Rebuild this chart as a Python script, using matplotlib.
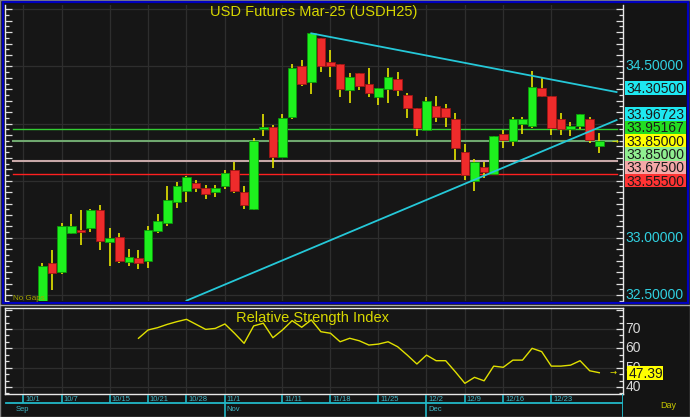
import numpy as np
import matplotlib
matplotlib.use('Agg')
import matplotlib.pyplot as plt
from matplotlib.patches import Rectangle
from matplotlib.lines import Line2D
from matplotlib.ticker import MultipleLocator
from matplotlib.transforms import blended_transform_factory

plt.rcParams['font.family'] = ['Liberation Sans', 'DejaVu Sans']

# --- dados ---
bar_idx = list(range(2, 61))
opens = [32.40, 32.78, 32.70, 33.04, 33.07, 33.09, 33.24, 32.96, 33.01, 32.79,
         32.82, 32.80, 33.06, 33.13, 33.31, 33.41, 33.48, 33.44, 33.40, 33.45,
         33.59, 33.40, 33.25, 33.95, 33.97, 33.71, 34.06, 34.50, 34.36, 34.75,
         34.54, 34.52, 34.29, 34.44, 34.35, 34.23, 34.30, 34.39, 34.25, 34.14,
         33.94, 34.15, 34.14, 34.04, 33.75, 33.50, 33.62, 33.56, 33.91, 33.85,
         34.00, 33.98, 34.31, 34.24, 34.04, 33.95, 33.98, 34.04, 33.80]
highs = [32.78, 32.89, 33.13, 33.21, 33.24, 33.25, 33.29, 33.09, 33.04, 32.90,
         32.89, 33.10, 33.21, 33.45, 33.49, 33.54, 33.51, 33.46, 33.46, 33.59,
         33.66, 33.45, 33.87, 34.08, 33.99, 34.08, 34.52, 34.56, 34.79, 34.75,
         34.64, 34.52, 34.44, 34.44, 34.49, 34.31, 34.49, 34.45, 34.27, 34.14,
         34.23, 34.24, 34.17, 34.09, 33.82, 33.69, 33.66, 33.89, 33.94, 34.06,
         34.06, 34.46, 34.40, 34.24, 34.09, 34.01, 34.08, 34.06, 33.92]
lows = [32.40, 32.54, 32.68, 33.03, 32.94, 33.05, 32.89, 32.75, 32.78, 32.75,
        32.73, 32.74, 33.04, 33.10, 33.26, 33.31, 33.40, 33.34, 33.36, 33.43,
        33.39, 33.25, 33.24, 33.89, 33.61, 33.71, 34.04, 34.33, 34.26, 34.45,
        34.41, 34.23, 34.18, 34.29, 34.23, 34.16, 34.18, 34.24, 34.05, 33.89,
        33.94, 34.01, 33.97, 33.68, 33.51, 33.41, 33.52, 33.56, 33.79, 33.80,
        33.91, 33.96, 34.23, 33.90, 33.90, 33.89, 33.95, 33.83, 33.74]
closes = [32.75, 32.69, 33.10, 33.10, 33.05, 33.24, 32.97, 33.00, 32.80, 32.83,
          32.78, 33.07, 33.15, 33.33, 33.45, 33.53, 33.44, 33.38, 33.44, 33.57,
          33.41, 33.29, 33.85, 33.97, 33.71, 34.05, 34.49, 34.35, 34.79, 34.50,
          34.50, 34.30, 34.41, 34.33, 34.27, 34.31, 34.41, 34.29, 34.14, 33.96,
          34.20, 34.06, 34.06, 33.79, 33.55, 33.66, 33.58, 33.89, 33.86, 34.04,
          34.04, 34.32, 34.24, 33.96, 33.95, 33.98, 34.08, 33.86, 33.85]

rsi_idx = list(range(12, 61))
rsi_vals = [65.2, 69.5, 70.7, 72.4, 73.8, 75.0, 72.4, 69.8, 70.3, 72.6,
            67.8, 62.6, 71.6, 73.0, 65.5, 69.5, 74.3, 70.9, 74.7, 68.6,
            67.8, 63.4, 65.2, 63.9, 61.7, 62.2, 63.4, 60.8, 56.5, 51.9,
            56.5, 53.6, 53.6, 47.9, 41.9, 45.0, 43.2, 50.8, 50.2, 53.9,
            53.9, 60.0, 58.3, 50.8, 50.8, 51.3, 53.6, 48.4, 47.39]

tick_pos = [0, 4, 9, 13, 17, 21, 27, 32, 37, 42, 46, 50, 55]
tick_labels = ['10/1', '10/7', '10/15', '10/21', '10/28', '11/1', '11/11',
               '11/18', '11/25', '12/2', '12/9', '12/16', '12/23']
month_pos = [-0.97, 21, 42]
month_labels = ['Sep', 'Nov', 'Dec']

level_vals = [33.95167, 33.85, 33.675, 33.555]
level_colors = ['#33cc33', '#6fa86f', '#c8a8a8', '#ff2020']

down_x, down_y = [30, 60], [34.79, 34.305]
up_x, up_y = [17, 60], [32.45, 33.96723]

# --- layout em pixels ---
W, H = 690, 417
BG = '#151515'
XLIM = (-1.906, 62.47)
X_END = 61.8


def fx(x):
    return x / W


def fy(y):
    return 1 - y / H


def extend(xs, ys, x_end):
    slope = (ys[1] - ys[0]) / (xs[1] - xs[0])
    return [xs[0], x_end], [ys[0], ys[1] + slope * (x_end - xs[1])]


fig = plt.figure(figsize=(W / 100, H / 100), dpi=100)
fig.patch.set_facecolor('#141414')

ax = fig.add_axes([fx(5), fy(301), 618 / W, 296 / H])
ax_rsi = fig.add_axes([fx(5), fy(394), 618 / W, 86 / H])
ax_dt = fig.add_axes([fx(5), 0, 618 / W, 23 / H])

for a in (ax, ax_rsi):
    a.set_facecolor('#161616')
    a.set_xlim(*XLIM)
    a.set_xticks([])
    for p in tick_pos:
        a.axvline(p, color='#2e2e2e', lw=0.9, zorder=0)
    for s in a.spines.values():
        s.set_color('#e8e8e8')
        s.set_linewidth(1)
    a.tick_params(axis='y', which='both', direction='in', left=True, right=True,
                  labelleft=False, labelright=False, color='#e0e0e0', width=0.9)
    a.tick_params(axis='y', which='major', length=5)
    a.tick_params(axis='y', which='minor', length=3)

# --- painel de precos ---
ax.set_ylim(32.447, 35.038)
ax.spines['top'].set_visible(False)
ax.spines['bottom'].set_visible(False)
ax.yaxis.set_major_locator(MultipleLocator(0.1))
ax.yaxis.set_minor_locator(MultipleLocator(0.05))
for v in np.arange(32.5, 35.01, 0.5):
    ax.axhline(v, color='#2e2e2e', lw=0.9, zorder=0)

for v, c in zip(level_vals, level_colors):
    lw = 1.5 if c in ('#6fa86f', '#c8a8a8') else 1.0
    ax.plot([-1.07, X_END], [v, v], color=c, lw=lw, zorder=1)

o = np.array(opens)
c = np.array(closes)
up = c >= o
body_lo = np.minimum(o, c)
body_h = np.maximum(np.abs(c - o), 0.018)
ax.vlines(bar_idx, lows, highs, color='#e6e600', lw=1.2, zorder=2)
ax.bar(np.array(bar_idx)[up], body_h[up], bottom=body_lo[up], width=0.88,
       color='#1ef01e', edgecolor='#0a9a0a', lw=0.6, zorder=3)
ax.bar(np.array(bar_idx)[~up], body_h[~up], bottom=body_lo[~up], width=0.88,
       color='#ee2b2b', edgecolor='#a01515', lw=0.6, zorder=3)

for xs, ys in ((down_x, down_y), (up_x, up_y)):
    ex, ey = extend(xs, ys, X_END)
    ax.plot(ex, ey, color='#25c8d8', lw=1.3, zorder=4)

# --- painel RSI ---
ax_rsi.set_ylim(36.38, 80.86)
ax_rsi.yaxis.set_major_locator(MultipleLocator(10))
ax_rsi.yaxis.set_minor_locator(MultipleLocator(10 / 3))
for v in (40, 50, 60, 70):
    ax_rsi.axhline(v, color='#2e2e2e', lw=0.9, zorder=0)
ax_rsi.plot(rsi_idx, rsi_vals, color='#e0e000', lw=1.0, zorder=3)

# --- faixa de datas ---
ax_dt.set_xlim(*XLIM)
ax_dt.set_ylim(23, 0)
ax_dt.axis('off')
cy = '#22b8c8'
ax_dt.plot([-1.8, XLIM[1]], [9, 9], color=cy, lw=1.3)
ax_dt.vlines([XLIM[1] - 0.02], 0, 23, color=cy, lw=1.3)
for p, lab in zip(tick_pos, tick_labels):
    bottom = 23 if p in month_pos else 9
    ax_dt.vlines(p, 1, bottom, color=cy, lw=1.2)
    ax_dt.text(p + 0.18, 5.2, lab, color='#40b8c8', fontsize=5.5, va='center', ha='left')
for p, lab in zip(month_pos, month_labels):
    ax_dt.text(p + 0.18, 15.5, lab, color='#40b8c8', fontsize=5.5, va='center', ha='left')

# --- molduras ---
fig.add_artist(Rectangle((0, 0), 1, 1, transform=fig.transFigure, fill=False,
                         ec='#808080', lw=1))
fig.add_artist(Rectangle((fx(2.5), fy(302.5)), 685.5 / W, 300.5 / H,
                         transform=fig.transFigure, fill=False, ec='#0000c0', lw=1.6))
fig.add_artist(Line2D([0, 1], [fy(305), fy(305)], transform=fig.transFigure,
                      color='#a8a8a8', lw=1))

# --- textos ---
fig.text(fx(313.5), fy(12), 'USD Futures Mar-25 (USDH25)', color='#d8d800',
         fontsize=10.5, ha='center', va='center')
fig.text(fx(313), fy(318), 'Relative Strength Index', color='#d8d800',
         fontsize=10.5, ha='center', va='center')
fig.text(fx(13), fy(298), 'No Gaps', color='#a8a800', fontsize=5.8, va='center')
fig.text(fx(660), fy(405), 'Day', color='#c8c800', fontsize=6.5, va='center')

# eixo direito do preco
tr = blended_transform_factory(ax.transAxes, ax.transData)
for v in (34.5, 33.0, 32.5):
    ax.text(1.0035, v, f'{v:.5f}', transform=tr, color='#30d0e0', fontsize=10,
            va='center', ha='left', clip_on=False)


def box_label(y, text, fc, x0=625, w=61, h=13.6):
    fig.add_artist(Rectangle((fx(x0), fy(y + h / 2)), w / W, h / H,
                             transform=fig.transFigure, fc=fc, ec='none'))
    fig.text(fx(x0 + 1.5), fy(y + 5), text, color='#1a1a1a', fontsize=10,
             va='baseline', ha='left')


side_labels = [('34.30500', '#1ee8f0', 88), ('33.96723', '#1ee8f0', 114),
               ('33.95167', '#22dd22', 127.5), ('33.85000', '#ffff00', 140.8),
               ('33.85000', '#90ee90', 154.2), ('33.67500', '#f4a8a8', 167.4),
               ('33.55500', '#ff3333', 180.6)]
for txt, fc, y in side_labels:
    box_label(y, txt, fc)

# eixo direito do RSI
tr2 = blended_transform_factory(ax_rsi.transAxes, ax_rsi.transData)
for v in (70, 60, 50, 40):
    ax_rsi.text(1.0035, v, str(v), transform=tr2, color='#d8d8d8', fontsize=10,
                va='center', ha='left', clip_on=False)
rsi_y = 394 - (rsi_vals[-1] - 36.38) / (80.86 - 36.38) * 86
box_label(rsi_y, f'{rsi_vals[-1]:.2f}', '#ffff00', x0=627, w=36)

# setinhas do ultimo valor
fig.text(fx(612), fy(141), '→', color='#e0e000', fontsize=6, va='center',
         family=['DejaVu Sans'])
fig.text(fx(610), fy(rsi_y), '→', color='#e0e000', fontsize=6, va='center',
         family=['DejaVu Sans'])

fig.savefig('out.png', dpi=100, facecolor=fig.get_facecolor())
plt.close(fig)
